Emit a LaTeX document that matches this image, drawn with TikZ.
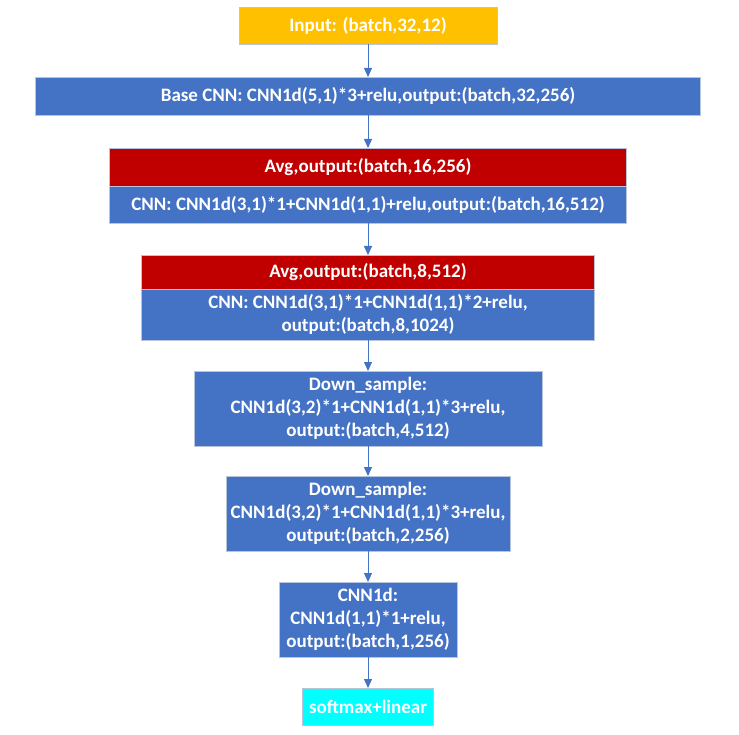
\documentclass[tikz,border=0pt]{standalone}
\usepackage{fontspec}
\setmainfont{Carlito}
\usepackage{tikz}
\usetikzlibrary{arrows.meta,positioning}
\definecolor{inorange}{HTML}{FFC000}
\definecolor{cnnblue}{HTML}{4472C4}
\definecolor{avgred}{HTML}{C00000}
\definecolor{outcyan}{HTML}{00FFFF}
\definecolor{edgegray}{HTML}{B8C4DA}

\begin{document}
\begin{tikzpicture}[x=1pt,y=1pt,
  layer/.style={draw=edgegray,line width=0.8pt,inner sep=0pt,outer sep=0pt,align=center,text=white,
    font=\fontsize{19}{23}\selectfont\bfseries},
  flow/.style={-{Triangle[width=8pt,length=9pt]},cnnblue,line width=0.9pt}]
\useasboundingbox (0,0) rectangle (739,-735);
\node[layer,fill=inorange,minimum width=258,minimum height=37] (input) at (368,-25.5) {Input: (batch,32,12)};
\node[layer,fill=cnnblue,minimum width=665,minimum height=38,below=33 of input] (base) {Base CNN: CNN1d(5,1)*3+relu,output:(batch,32,256)};
\node[layer,fill=avgred,minimum width=517,minimum height=38,below=33 of base] (avg1) {Avg,output:(batch,16,256)};
\node[layer,fill=cnnblue,minimum width=517,minimum height=37,below=0 of avg1] (cnn1) {CNN: CNN1d(3,1)*1+CNN1d(1,1)+relu,output:(batch,16,512)};
\node[layer,fill=avgred,minimum width=453,minimum height=34,below=32 of cnn1] (avg2) {Avg,output:(batch,8,512)};
\node[layer,fill=cnnblue,minimum width=453,minimum height=51,below=0 of avg2] (cnn2) {CNN: CNN1d(3,1)*1+CNN1d(1,1)*2+relu,\\output:(batch,8,1024)};
\node[layer,fill=cnnblue,minimum width=348,minimum height=75,below=31 of cnn2] (down1) {Down\_sample:\\CNN1d(3,2)*1+CNN1d(1,1)*3+relu,\\output:(batch,4,512)};
\node[layer,fill=cnnblue,minimum width=284,minimum height=75,below=30 of down1] (down2) {Down\_sample:\\CNN1d(3,2)*1+CNN1d(1,1)*3+relu,\\output:(batch,2,256)};
\node[layer,fill=cnnblue,minimum width=178,minimum height=75,below=31 of down2] (cnn1d) {CNN1d:\\CNN1d(1,1)*1+relu,\\output:(batch,1,256)};
\node[layer,fill=outcyan,minimum width=131,minimum height=37,below=31 of cnn1d] (out) {softmax+linear};
\draw[flow] (input) -- (base);
\draw[flow] (base) -- (avg1);
\draw[flow] (cnn1) -- (avg2);
\draw[flow] (cnn2) -- (down1);
\draw[flow] (down1) -- (down2);
\draw[flow] (down2) -- (cnn1d);
\draw[flow] (cnn1d) -- (out);
\end{tikzpicture}
\end{document}
